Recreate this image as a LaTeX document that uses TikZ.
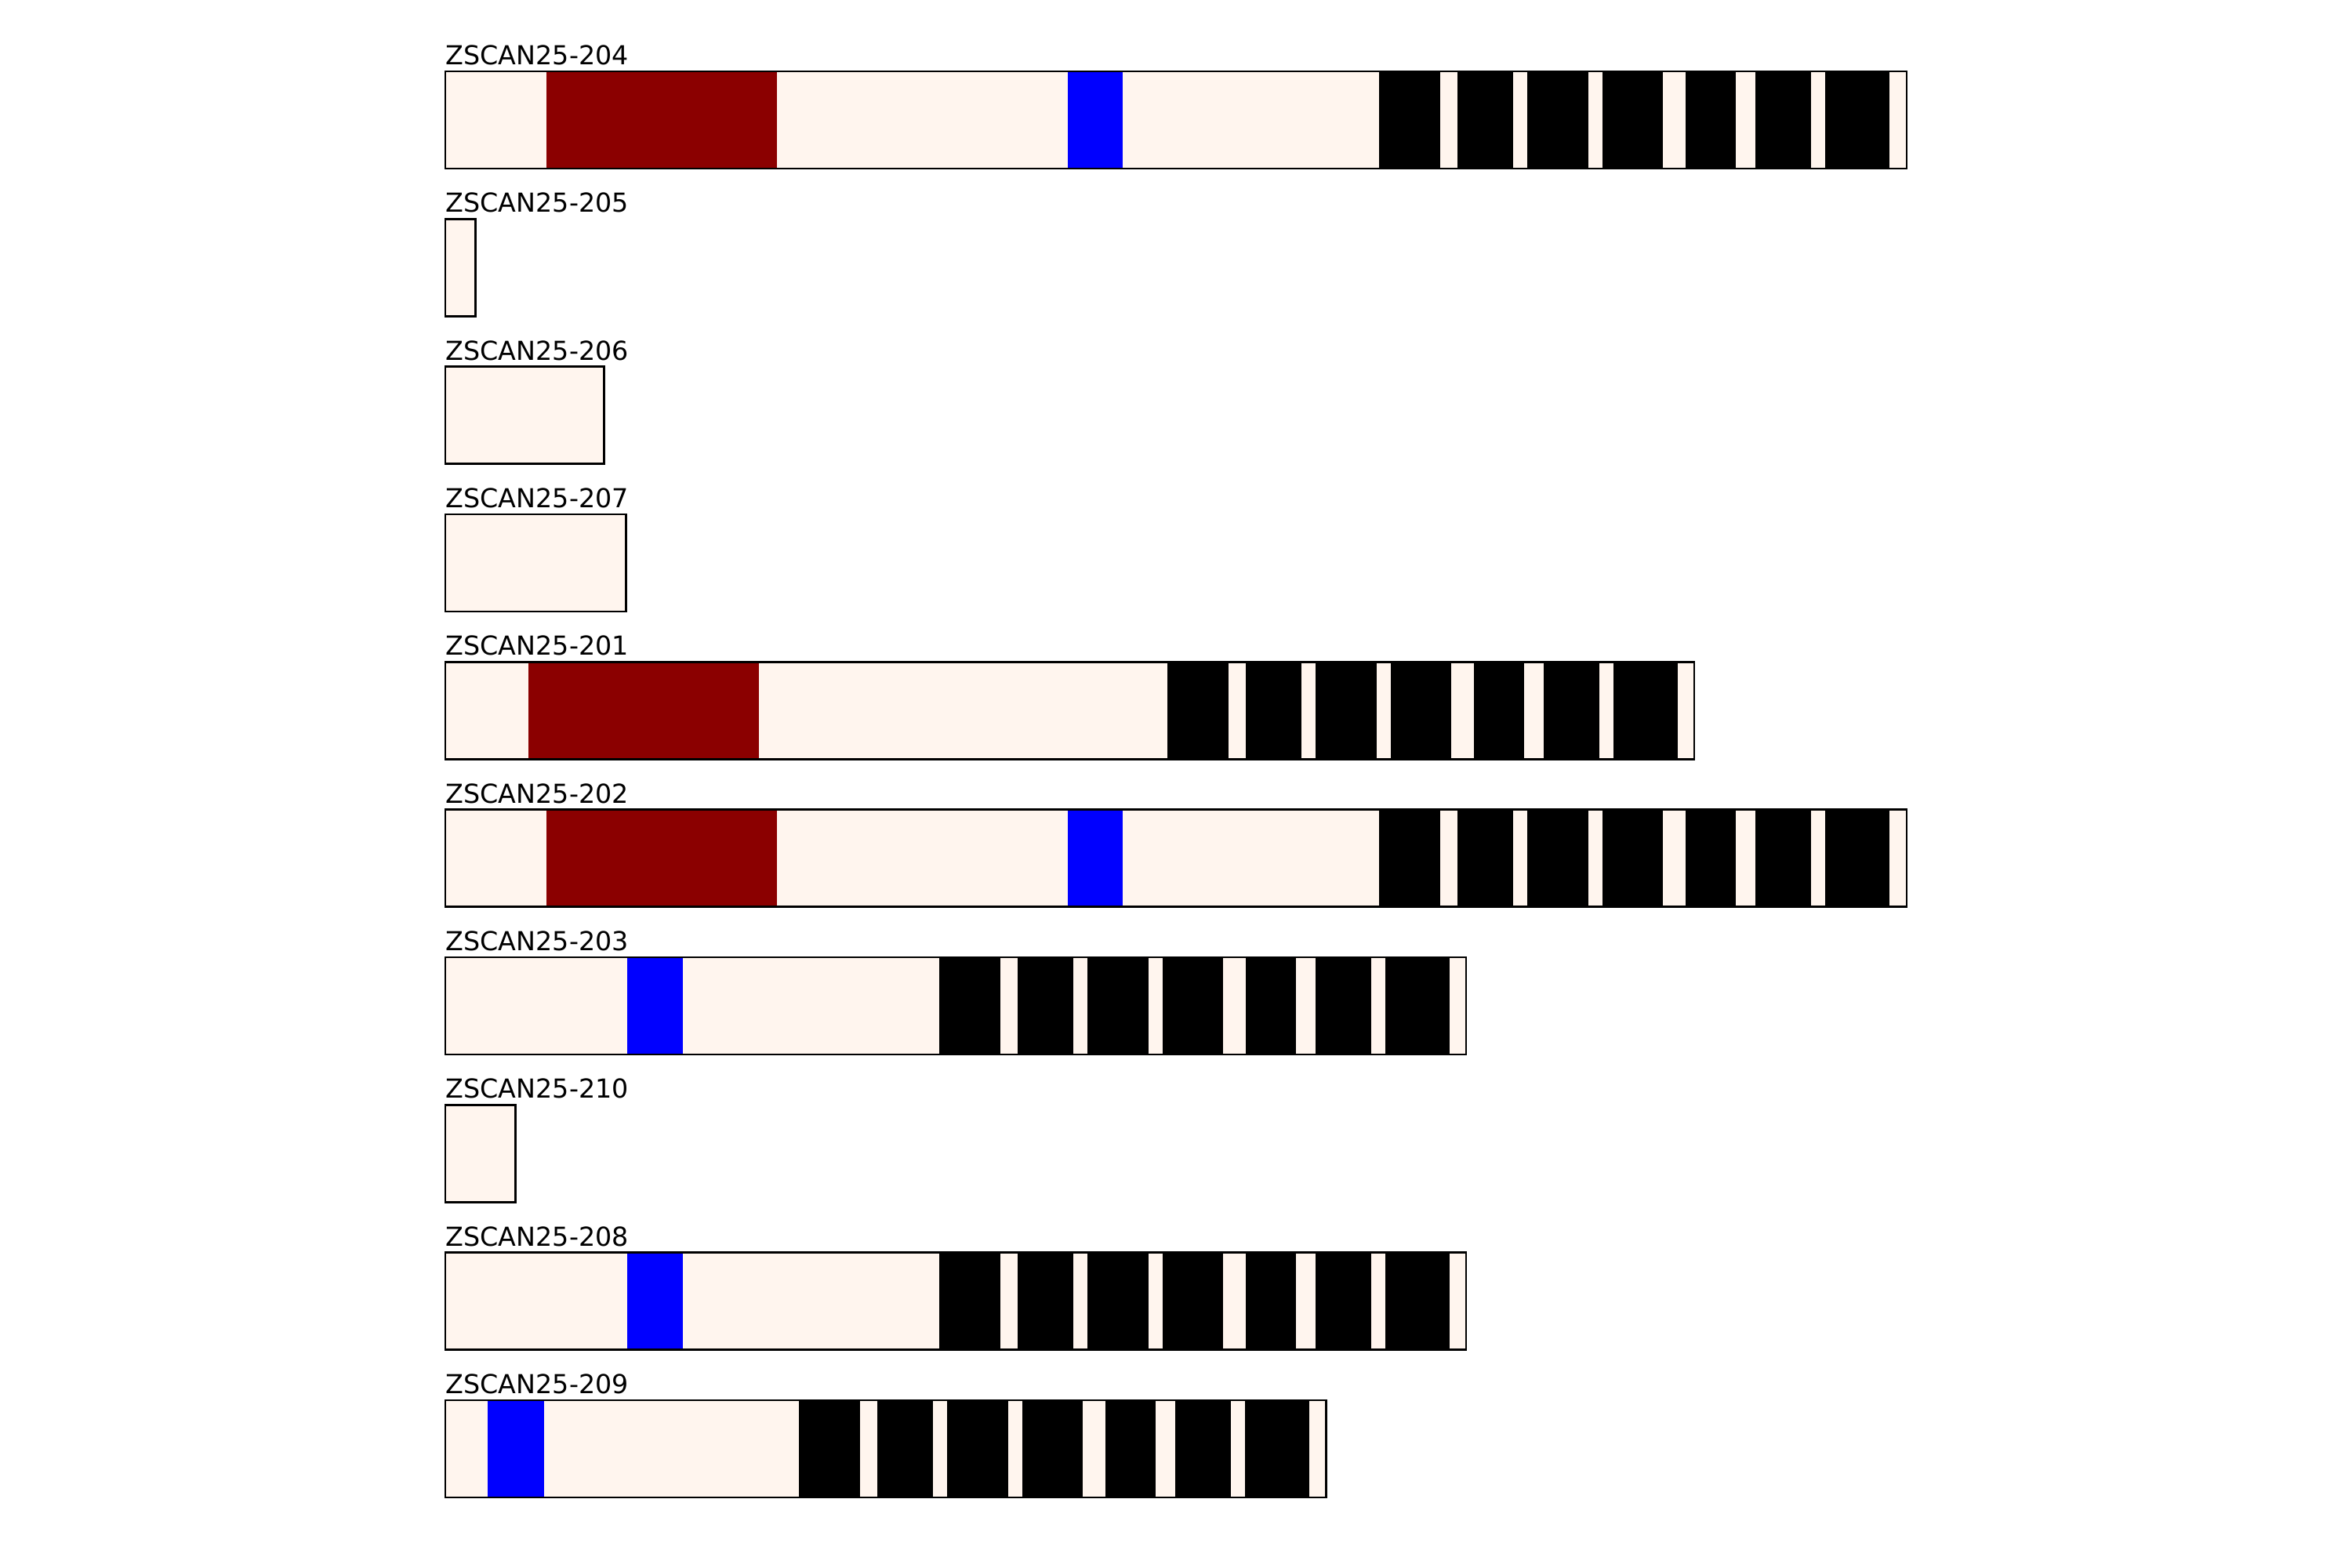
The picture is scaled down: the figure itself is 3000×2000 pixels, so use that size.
\documentclass[tikz,border=0pt]{standalone}
\usepackage{fontspec}
\setmainfont{DejaVu Sans}
\usepackage{xcolor}
\definecolor{seashell}{RGB}{255, 245, 238}
\definecolor{scanred}{RGB}{139, 0, 0}
\definecolor{krabblue}{RGB}{0, 0, 255}
\usetikzlibrary{positioning}
% seven zinc fingers, from start x (#1) on a bar with top y (#2)
\newcommand{\znfblock}[2]{%
  \foreach \a/\b in {0/78, 99.5/171, 189/266.5, 284.5/362, 391/455, 479.5/551, 569/650.5}
    \fill[znfbox] ({#1+\a},#2) rectangle ({#1+\b},#2+124);}

\begin{document}
\begin{tikzpicture}[x=0.3pt, y=-0.3pt,
        utrbox/.style={fill=seashell},
        scanbox/.style={fill=scanred},
        krabbox/.style={fill=krabblue},
        znfbox/.style={fill=black},
        outline/.style={draw=black, line width=0.8pt},
        txlabel/.style={anchor=base west, inner sep=0pt, font=\fontsize{10}{12}\selectfont}]

        \useasboundingbox (0,0) rectangle (3000,2000);

        % ZSCAN25-204
        \node [txlabel] (lab204) at (568,82.5) {ZSCAN25-204};
        \fill [utrbox] (568,91) rectangle (2432,215);
        \fill [scanbox] (697,91) rectangle (991,215);
        \fill [krabbox] (1362,91) rectangle (1432,215);
        \znfblock{1759}{91}
        \draw [outline] (568,91) rectangle (2432,215);

        % ZSCAN25-205
        \node [txlabel] (lab205) at (568,270.8) {ZSCAN25-205};
        \fill [utrbox] (568,279.3) rectangle (606.7,403.3);
        \draw [outline] (568,279.3) rectangle (606.7,403.3);

        % ZSCAN25-206
        \node [txlabel] (lab206) at (568,459.2) {ZSCAN25-206};
        \fill [utrbox] (568,467.7) rectangle (770.7,591.7);
        \draw [outline] (568,467.7) rectangle (770.7,591.7);

        % ZSCAN25-207
        \node [txlabel] (lab207) at (568,647.5) {ZSCAN25-207};
        \fill [utrbox] (568,656) rectangle (798.7,780);
        \draw [outline] (568,656) rectangle (798.7,780);

        % ZSCAN25-201
        \node [txlabel] (lab201) at (568,835.8) {ZSCAN25-201};
        \fill [utrbox] (568,844.3) rectangle (2161,968.3);
        \fill [scanbox] (674,844.3) rectangle (968,968.3);
        \znfblock{1489}{844.3}
        \draw [outline] (568,844.3) rectangle (2161,968.3);

        % ZSCAN25-202
        \node [txlabel] (lab202) at (568,1024.2) {ZSCAN25-202};
        \fill [utrbox] (568,1032.7) rectangle (2432,1156.7);
        \fill [scanbox] (697,1032.7) rectangle (991,1156.7);
        \fill [krabbox] (1362,1032.7) rectangle (1432,1156.7);
        \znfblock{1759}{1032.7}
        \draw [outline] (568,1032.7) rectangle (2432,1156.7);

        % ZSCAN25-203
        \node [txlabel] (lab203) at (568,1212.5) {ZSCAN25-203};
        \fill [utrbox] (568,1221) rectangle (1870,1345);
        \fill [krabbox] (800,1221) rectangle (871,1345);
        \znfblock{1198}{1221}
        \draw [outline] (568,1221) rectangle (1870,1345);

        % ZSCAN25-210
        \node [txlabel] (lab210) at (568,1400.8) {ZSCAN25-210};
        \fill [utrbox] (568,1409.3) rectangle (657.7,1533.3);
        \draw [outline] (568,1409.3) rectangle (657.7,1533.3);

        % ZSCAN25-208
        \node [txlabel] (lab208) at (568,1589.2) {ZSCAN25-208};
        \fill [utrbox] (568,1597.7) rectangle (1870,1721.7);
        \fill [krabbox] (800,1597.7) rectangle (871,1721.7);
        \znfblock{1198}{1597.7}
        \draw [outline] (568,1597.7) rectangle (1870,1721.7);

        % ZSCAN25-209
        \node [txlabel] (lab209) at (568,1777.5) {ZSCAN25-209};
        \fill [utrbox] (568,1786) rectangle (1691.5,1910);
        \fill [krabbox] (622,1786) rectangle (694,1910);
        \znfblock{1019}{1786}
        \draw [outline] (568,1786) rectangle (1691.5,1910);
    \end{tikzpicture}
\end{document}
